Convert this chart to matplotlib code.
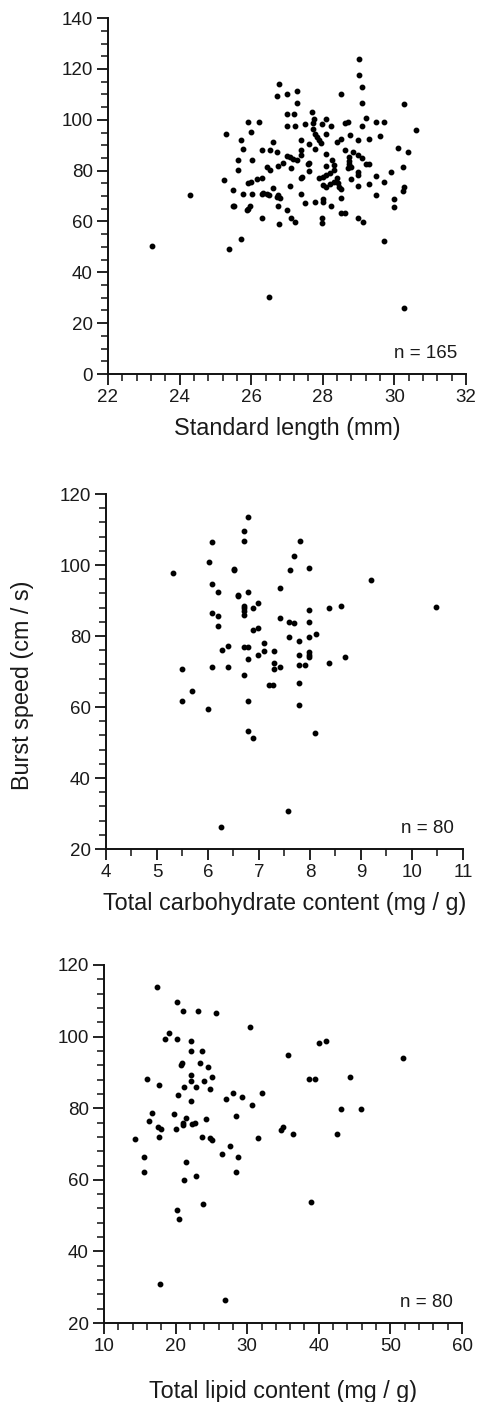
"""
plot.py
Tres diagramas de dispersión de velocidad de escape (burst speed)
frente a longitud estándar, carbohidratos totales y lípidos totales.
Salida: out.png
"""

import matplotlib
matplotlib.use("Agg")
import matplotlib.pyplot as plt
from matplotlib.ticker import MultipleLocator

plt.rcParams["font.family"] = ["Liberation Sans", "DejaVu Sans"]

# ------------------------- Datos -------------------------

# Panel 1: longitud estándar (mm) vs velocidad (cm/s)
length_mm = [
    29.01, 29.01, 29.1, 29.1, 26.79, 26.73, 27.0, 27.29, 27.29, 28.5,
    30.28, 30.61, 25.3, 25.9, 26.23, 26.0, 25.72, 25.78, 25.64, 25.64,
    25.24, 26.01, 26.29, 26.53, 26.73, 26.62, 27.0, 27.19, 27.71, 27.76,
    28.1, 27.0, 27.23, 27.51, 27.73, 27.73, 27.99, 28.23, 28.63, 28.71,
    29.09, 29.22, 29.5, 29.72, 29.6, 28.1, 27.77, 27.83, 27.89, 27.39,
    27.62, 27.77, 27.95, 28.39, 28.5, 28.77, 28.99, 29.28, 28.62, 28.85,
    28.99, 29.09, 30.11, 30.39, 26.99, 27.08, 27.16, 27.27, 27.39, 27.39,
    27.62, 28.1, 28.25, 28.3, 28.3, 28.2, 28.1, 28.0, 27.9, 28.1,
    28.01, 28.1, 28.2, 28.31, 28.39, 28.43, 28.46, 28.5, 28.74, 28.74,
    28.74, 28.78, 28.7, 28.99, 28.99, 29.22, 29.29, 28.8, 28.99, 29.28,
    29.5, 29.72, 29.9, 30.23, 30.28, 30.23, 29.99, 29.99, 29.5, 28.52,
    28.62, 28.99, 28.5, 28.23, 28.01, 28.01, 27.78, 27.5, 27.39, 27.39,
    27.43, 27.6, 27.08, 27.11, 26.9, 26.74, 26.53, 26.43, 26.6, 26.74,
    26.73, 26.8, 26.29, 26.34, 26.43, 26.5, 26.76, 26.99, 26.29, 26.15,
    26.0, 25.9, 25.78, 26.01, 25.5, 25.5, 25.97, 25.9, 26.29, 27.11,
    27.99, 27.61, 24.29, 23.24, 25.39, 25.72, 26.51, 29.72, 30.27, 25.52,
    25.88, 26.78, 27.22, 27.99, 29.13,
]
speed_len = [
    124.1, 117.7, 113.0, 106.8, 113.9, 109.3, 110.1, 111.4, 106.8, 110.0,
    106.2, 96.0, 94.3, 99.0, 99.0, 95.2, 92.0, 88.7, 84.2, 80.2,
    76.3, 84.2, 88.1, 88.1, 87.4, 91.1, 102.2, 102.2, 102.9, 100.4,
    100.5, 97.4, 97.4, 98.2, 98.6, 96.2, 98.2, 97.5, 98.6, 99.1,
    97.5, 100.9, 99.1, 99.1, 93.6, 94.3, 94.3, 93.3, 92.0, 92.0,
    90.4, 88.7, 91.0, 91.3, 92.5, 94.1, 92.0, 92.3, 88.1, 87.4,
    86.1, 84.8, 89.0, 87.4, 85.8, 85.2, 84.4, 84.2, 86.1, 88.1,
    83.1, 86.4, 84.2, 82.2, 80.2, 78.9, 78.3, 77.6, 77.3, 81.8,
    74.3, 73.7, 74.7, 75.6, 77.3, 75.0, 73.7, 72.6, 85.4, 83.9,
    82.6, 81.5, 80.9, 79.6, 78.3, 82.6, 82.6, 76.6, 73.9, 74.7,
    77.9, 75.6, 79.6, 81.3, 73.7, 72.1, 68.7, 65.6, 70.3, 63.2,
    63.2, 61.2, 69.4, 66.2, 68.7, 67.8, 67.8, 67.1, 70.8, 77.0,
    77.6, 82.6, 74.1, 81.1, 83.2, 81.8, 80.2, 81.5, 73.0, 70.4,
    69.7, 69.1, 71.0, 71.3, 70.8, 70.4, 66.2, 64.5, 77.0, 76.6,
    75.6, 75.2, 70.8, 70.8, 72.4, 66.2, 66.2, 64.8, 61.5, 61.5,
    61.2, 79.9, 70.3, 50.5, 49.0, 53.1, 30.4, 52.2, 25.8, 66.1,
    64.5, 59.0, 59.7, 59.6, 59.7,
]

# Panel 2: carbohidratos totales (mg/g) vs velocidad
carb_mg_g = [
    6.79, 6.71, 6.71, 6.08, 6.01, 5.31, 6.51, 6.51, 7.8, 7.69,
    7.6, 7.99, 9.2, 10.48, 6.08, 6.19, 6.59, 6.59, 6.78, 7.41,
    6.71, 6.71, 6.71, 6.89, 6.99, 6.71, 6.08, 6.19, 6.19, 7.41,
    7.59, 7.69, 7.99, 7.99, 8.37, 8.61, 6.89, 6.99, 7.59, 7.79,
    7.99, 8.11, 7.09, 6.39, 6.27, 6.71, 6.79, 6.78, 6.99, 7.09,
    7.29, 7.79, 7.99, 7.99, 7.99, 8.69, 8.37, 7.29, 7.29, 7.41,
    7.79, 7.91, 6.08, 6.39, 5.49, 6.71, 7.2, 7.28, 7.78, 5.5,
    5.69, 6.0, 6.78, 7.78, 6.78, 6.88, 8.1, 7.57, 6.26,
]
speed_carb = [
    113.6, 109.7, 106.8, 106.4, 100.8, 97.9, 99.0, 98.6, 106.8, 102.5,
    98.6, 99.2, 95.9, 88.2, 94.7, 92.5, 91.7, 91.3, 92.4, 93.5,
    88.5, 87.8, 87.1, 88.0, 89.2, 85.9, 86.4, 85.7, 82.9, 85.2,
    84.0, 83.6, 87.4, 84.0, 88.0, 88.6, 81.8, 82.3, 79.6, 78.5,
    79.6, 80.6, 78.0, 77.3, 76.2, 76.8, 76.8, 73.4, 74.6, 75.7,
    75.7, 74.6, 75.4, 74.6, 74.0, 74.0, 72.5, 72.5, 70.6, 71.3,
    71.9, 71.9, 71.3, 71.3, 70.6, 69.1, 66.2, 66.2, 66.8, 61.7,
    64.6, 59.4, 61.7, 60.6, 53.3, 51.2, 52.8, 30.6, 26.2,
]

# Panel 3: lípidos totales (mg/g) vs velocidad
lipid_mg_g = [
    17.4, 20.2, 21.08, 23.17, 25.68, 30.43, 19.03, 18.47, 20.2, 22.1,
    22.1, 23.73, 35.65, 40.07, 40.96, 51.76, 20.7, 20.94, 23.45, 24.53,
    22.1, 22.1, 23.97, 25.13, 16.0, 17.64, 21.22, 22.89, 24.85, 20.34,
    22.1, 38.63, 39.51, 44.31, 27.04, 27.97, 29.32, 30.63, 32.02, 28.44,
    43.1, 45.9, 16.75, 16.28, 19.82, 21.45, 20.99, 20.99, 20.06, 22.33,
    22.67, 24.29, 17.59, 17.92, 34.77, 35.05, 36.45, 42.53, 14.28, 17.64,
    23.73, 24.8, 25.13, 31.51, 15.63, 15.63, 21.45, 26.48, 27.64, 28.67,
    28.44, 21.17, 22.89, 20.24, 20.52, 23.87, 38.87, 17.78, 26.9,
]
speed_lipid = [
    113.8, 109.8, 107.1, 107.1, 106.5, 102.6, 100.9, 99.2, 99.2, 98.8,
    96.0, 96.0, 94.9, 98.3, 98.8, 93.9, 92.1, 92.5, 92.6, 91.5,
    89.2, 87.6, 87.6, 88.8, 88.2, 86.4, 85.9, 85.9, 85.4, 83.8,
    82.1, 88.2, 88.2, 88.8, 82.6, 84.3, 83.2, 81.0, 84.3, 77.7,
    79.9, 79.9, 78.8, 76.4, 78.4, 77.2, 76.0, 75.2, 74.3, 75.5,
    76.0, 77.1, 74.8, 74.3, 73.9, 74.8, 72.8, 72.8, 71.3, 72.0,
    72.0, 71.6, 71.1, 71.6, 66.5, 62.1, 65.0, 67.2, 69.4, 66.5,
    62.1, 59.9, 61.1, 51.6, 49.2, 53.2, 53.9, 30.9, 26.4,
]

TEXT_COLOR = "#1a1a1a"


# ------------------------- Utilidades -------------------------

def style_axes(ax, xlim, ylim, xmaj, xmin, ymaj, ymin):
    ax.set_xlim(*xlim)
    ax.set_ylim(*ylim)
    ax.xaxis.set_major_locator(MultipleLocator(xmaj))
    ax.xaxis.set_minor_locator(MultipleLocator(xmin))
    ax.yaxis.set_major_locator(MultipleLocator(ymaj))
    ax.yaxis.set_minor_locator(MultipleLocator(ymin))
    for side in ("top", "right"):
        ax.spines[side].set_visible(False)
    for side in ("left", "bottom"):
        ax.spines[side].set_linewidth(1.4)
        ax.spines[side].set_color("#111111")
    ax.tick_params(which="major", direction="out", length=8, width=1.3,
                   labelsize=13.5, pad=3, colors="#111111",
                   labelcolor=TEXT_COLOR)
    ax.tick_params(which="minor", direction="out", length=5, width=1.1,
                   colors="#111111")
    ax.patch.set_visible(False)


def scatter_panel(ax, x, y, n_text):
    ax.plot(x, y, linestyle="none", marker="o", markersize=3.2,
            color="black", clip_on=False)
    ax.text(0.975, 0.035, n_text, transform=ax.transAxes, ha="right",
            va="bottom", fontsize=13.5, color=TEXT_COLOR)


# ------------------------- Main -------------------------

def main():
    fig = plt.figure(figsize=(4.84, 14.02), dpi=100)

    # --- Panel 1 ---
    ax1 = fig.add_axes([0.2231, 0.7332, 0.7397, 0.2539])
    style_axes(ax1, (22, 32), (0, 140), 2, 0.4, 20, 5)
    scatter_panel(ax1, length_mm, speed_len, "n = 165")
    ax1.set_xlabel("Standard length (mm)", fontsize=16.8, color=TEXT_COLOR,
                   labelpad=8)

    # --- Panel 2 ---
    ax2 = fig.add_axes([0.219, 0.3944, 0.7376, 0.2532])
    style_axes(ax2, (4, 11), (20, 120), 1, 0.5, 20, 4)
    scatter_panel(ax2, carb_mg_g, speed_carb, "n = 80")
    ax2.set_xlabel("Total carbohydrate content (mg / g)", fontsize=16.8,
                   color=TEXT_COLOR, labelpad=8)

    # --- Panel 3 ---
    ax3 = fig.add_axes([0.2149, 0.0563, 0.7397, 0.2554])
    style_axes(ax3, (10, 60), (20, 120), 10, 2, 20, 4)
    scatter_panel(ax3, lipid_mg_g, speed_lipid, "n = 80")
    ax3.set_xlabel("Total lipid content (mg / g)", fontsize=16.8,
                   color=TEXT_COLOR, labelpad=18)

    # etiqueta común del eje y (sólo en el panel central)
    fig.text(0.0475, 0.5114, "Burst speed (cm / s)", rotation=90,
             ha="center", va="center", fontsize=16.8, color=TEXT_COLOR)

    fig.savefig("out.png", dpi=100)
    plt.close(fig)


if __name__ == "__main__":
    main()
